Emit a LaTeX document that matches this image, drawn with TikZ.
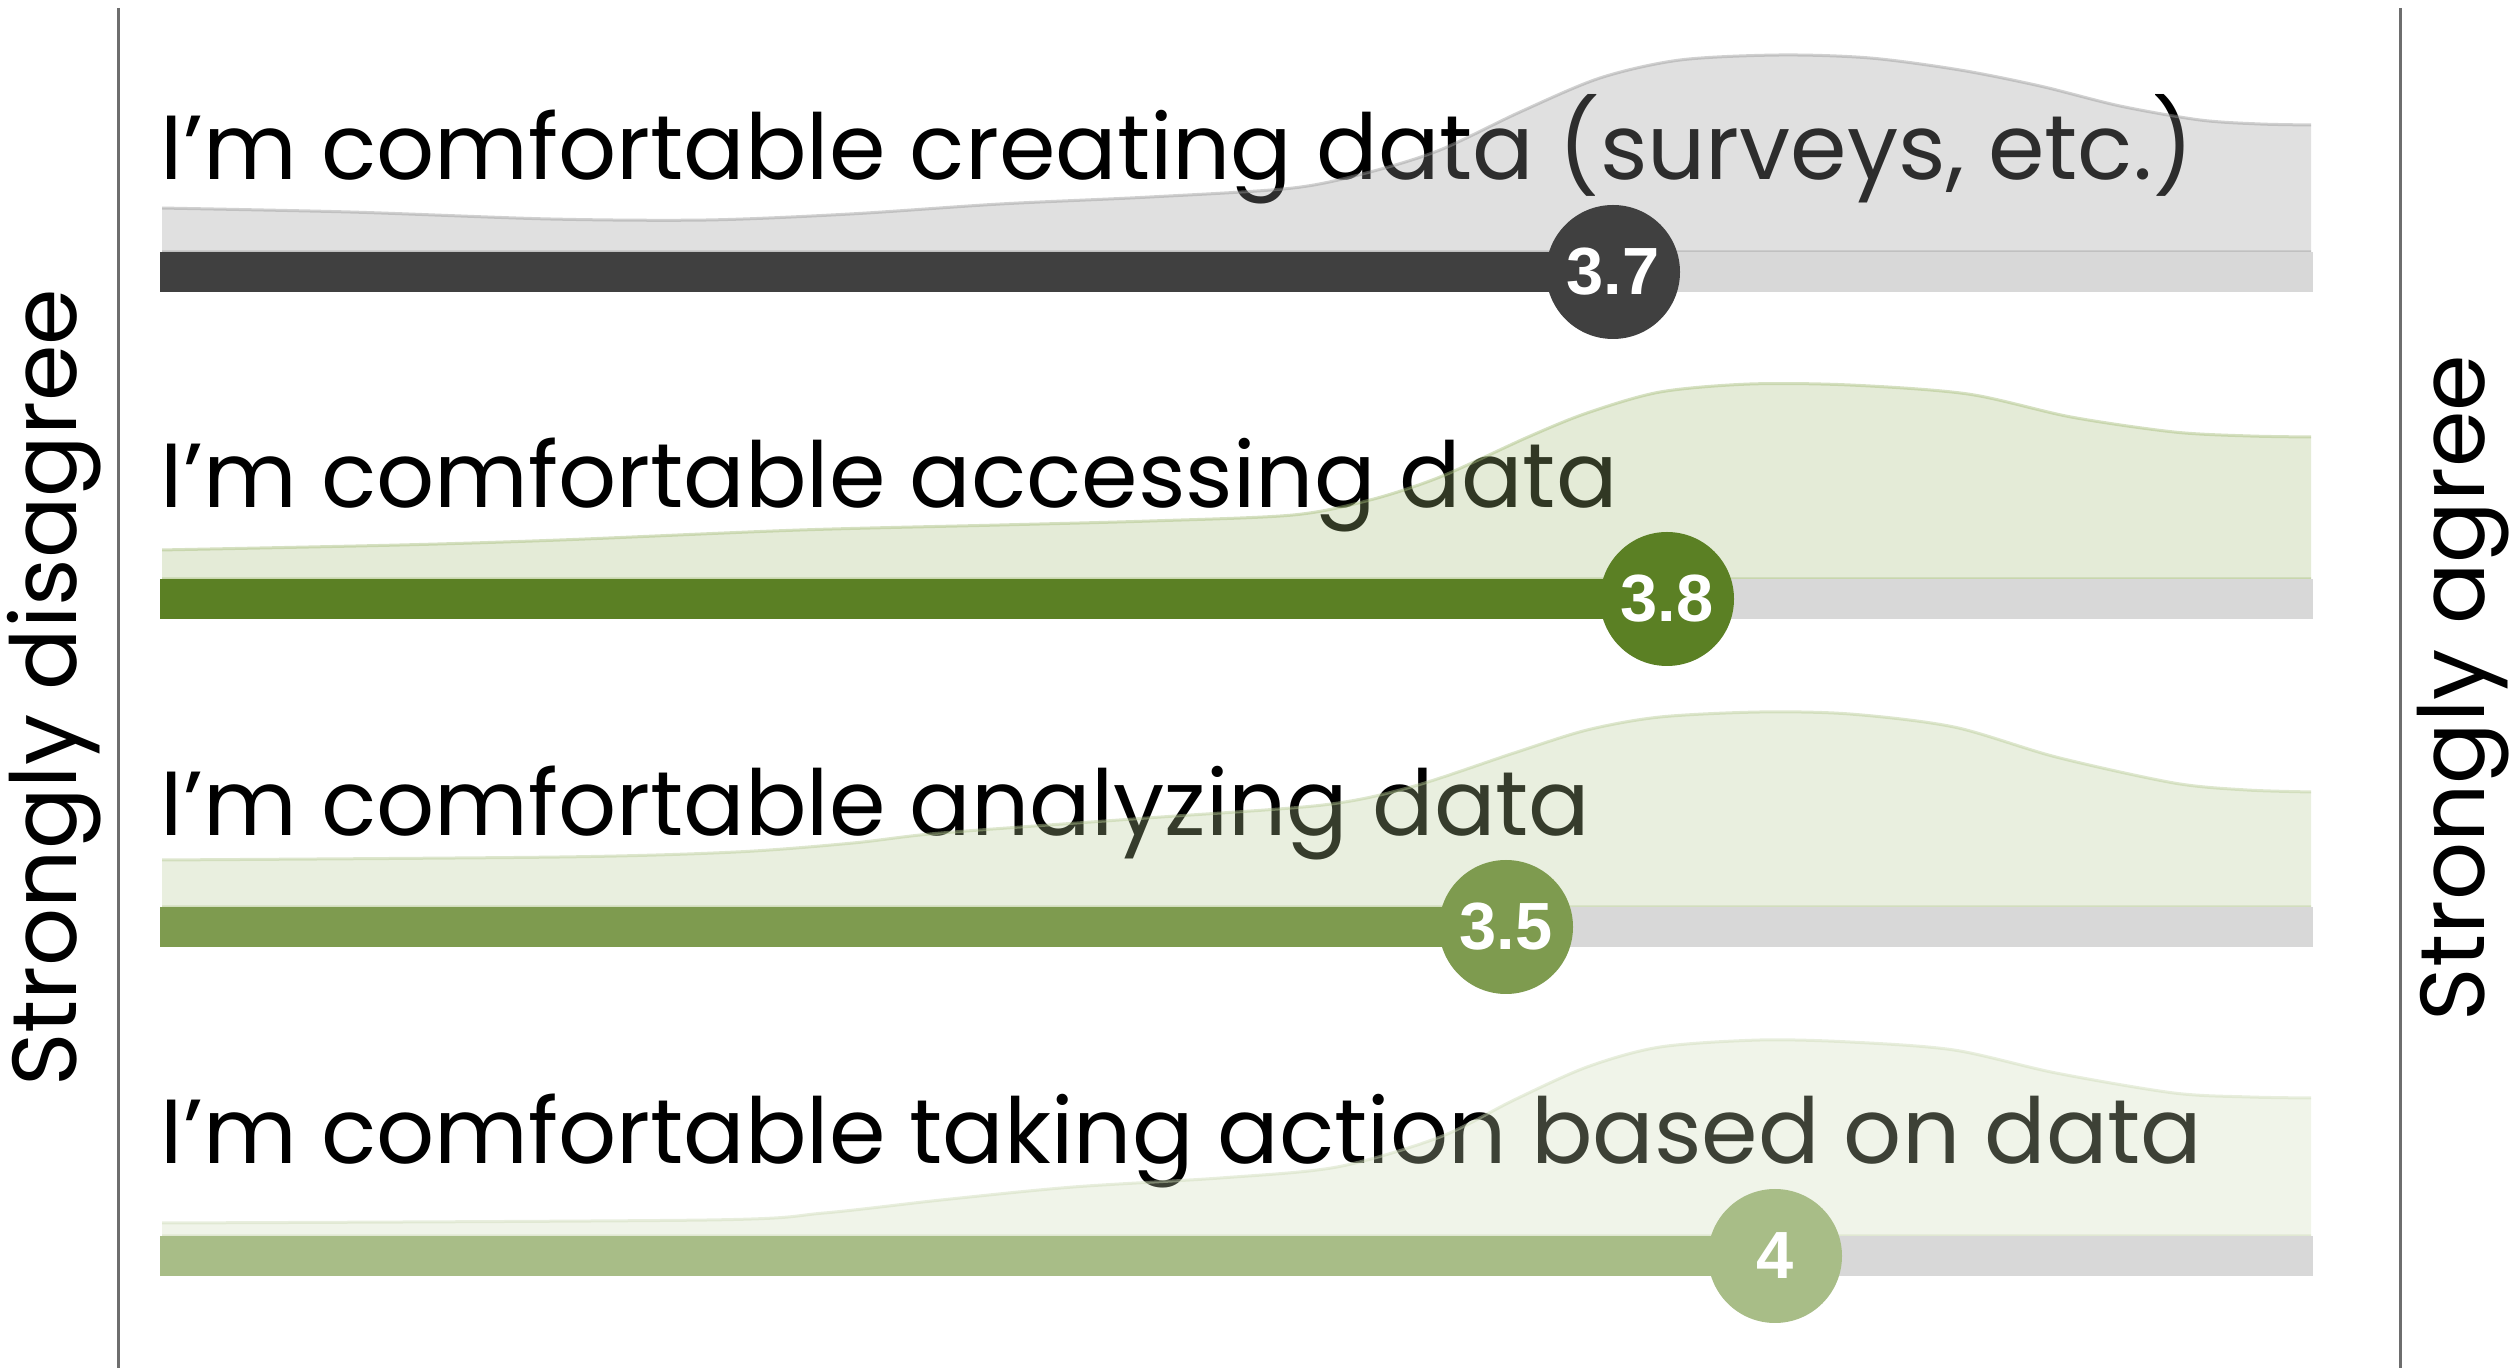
\documentclass[tikz,border=0pt]{standalone}
\usepackage{fontspec}
\setmainfont{Poppins}
\newfontfamily\numfont{Liberation Sans}
\usepackage{tikz}

\definecolor{barA}{HTML}{404040}
\definecolor{barB}{HTML}{5B8024}
\definecolor{barC}{HTML}{7E9B4F}
\definecolor{barD}{HTML}{A8BD87}
\definecolor{denA}{RGB}{152,152,152}
\definecolor{denB}{RGB}{165,188,122}
\definecolor{denC}{RGB}{182,202,148}
\definecolor{denD}{RGB}{205,218,182}
\definecolor{track}{HTML}{D8D8D8}
\definecolor{rule}{HTML}{6E6E6E}

\begin{document}
\begin{tikzpicture}[x=0.1mm, y=-0.1mm,
		dens/.style={fill=#1, fill opacity=0.3, draw=#1, draw opacity=0.45, line width=0.03cm},
		bar/.style={draw=#1, line width=0.4cm},
		side/.style={rotate=90, anchor=base, inner sep=0pt,
			font=\fontsize{25.9}{30}\selectfont}]
	\useasboundingbox (0,0) rectangle (2517,1368);

	% outer rules
	\coordinate (LT) at (118,8);
	\coordinate (LB) at (118,1368);
	\coordinate (RT) at (2400,8);
	\coordinate (RB) at (2400,1368);
	\draw[rule, line width=0.03cm] (LT) -- (LB);
	\draw[rule, line width=0.03cm] (RT) -- (RB);
	\node[side] (dis) at (77,688) {Strongly disagree};
	\node[side] (agr) at (2484,688) {Strongly agree};

	% statements
	\begin{scope}[every node/.style = {anchor=base west, inner sep=0pt,
			font=\fontsize{25.9}{30}\selectfont}]
		\node (tA) at (160,180) {I’m comfortable creating data (surveys, etc.)};
		\node (tB) at (160,508) {I’m comfortable accessing data};
		\node (tC) at (160,836) {I’m comfortable analyzing data};
		\node (tD) at (160,1164) {I’m comfortable taking action based on data};
	\end{scope}

	% answer spread
	\begin{scope}
		\clip (162,0) rectangle (2311,252) (162,300) rectangle (2311,579)
			(162,640) rectangle (2311,907) (162,960) rectangle (2311,1236);
		\path[dens=denA] plot[smooth] coordinates {(160,208) (350,212) (550,219) (707,220)
			(850,214) (1000,204) (1150,197) (1293,188) (1370,172) (1440,150) (1520,112)
			(1600,78) (1680,60) (1780,55) (1870,58) (1960,70) (2040,86) (2120,106)
			(2200,120) (2260,124) (2313,125)} -- (2313,252) -- (160,252) -- cycle;
		\path[dens=denB] plot[smooth] coordinates {(160,550) (400,545) (560,540) (800,530)
			(1000,525) (1150,521) (1293,515) (1370,500) (1440,477) (1528,437) (1587,413)
			(1660,392) (1750,384) (1850,385) (1968,394) (2071,417) (2174,432) (2250,436)
			(2313,437)} -- (2313,579) -- (160,579) -- cycle;
		\path[dens=denC] plot[smooth] coordinates {(160,860) (560,857) (736,852) (853,843)
			(941,833) (1147,818) (1323,805) (1411,787) (1514,753) (1587,730) (1660,717)
			(1760,712) (1850,714) (1954,727) (2056,757) (2174,783) (2247,790)
			(2313,792)} -- (2313,907) -- (160,907) -- cycle;
		\path[dens=denD] plot[smooth] coordinates {(160,1223) (707,1220) (824,1213)
			(941,1200) (1073,1187) (1220,1178) (1337,1167) (1440,1137) (1514,1100)
			(1587,1067) (1660,1047) (1760,1040) (1850,1042) (1954,1050) (2056,1073)
			(2174,1093) (2250,1097) (2313,1098)} -- (2313,1236) -- (160,1236) -- cycle;
	\end{scope}

	% value markers
	\coordinate (vA) at (1613,272);
	\coordinate (vB) at (1667,599);
	\coordinate (vC) at (1506,927);
	\coordinate (vD) at (1775,1256);
	\coordinate (sA) at (160,272);  \coordinate (eA) at (2313,272);
	\coordinate (sB) at (160,599);  \coordinate (eB) at (2313,599);
	\coordinate (sC) at (160,927);  \coordinate (eC) at (2313,927);
	\coordinate (sD) at (160,1256); \coordinate (eD) at (2313,1256);
	\draw[bar=track] (sA) -- (eA);
	\draw[bar=track] (sB) -- (eB);
	\draw[bar=track] (sC) -- (eC);
	\draw[bar=track] (sD) -- (eD);
	\draw[bar=barA] (sA) -- (vA);
	\draw[bar=barB] (sB) -- (vB);
	\draw[bar=barC] (sC) -- (vC);
	\draw[bar=barD] (sD) -- (vD);
	\begin{scope}[every node/.style = {circle, minimum size=1.34cm, inner sep=0pt,
			text=white, font=\numfont\bfseries\fontsize{19}{22}\selectfont}]
		\node[fill=barA] (mA) at (vA) {3.7};
		\node[fill=barB] (mB) at (vB) {3.8};
		\node[fill=barC] (mC) at (vC) {3.5};
		\node[fill=barD] (mD) at (vD) {4};
	\end{scope}
\end{tikzpicture}
\end{document}
